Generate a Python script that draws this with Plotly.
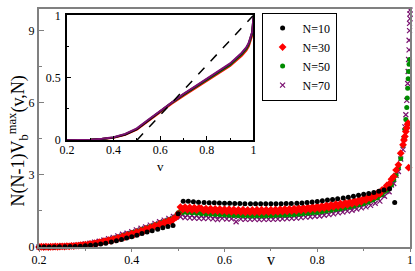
import plotly.graph_objects as go

# ---------------- data ----------------
V10 = [0.2, 0.211, 0.222, 0.233, 0.244, 0.256, 0.267, 0.278, 0.289, 0.3,
       0.311, 0.322, 0.333, 0.344, 0.356, 0.367, 0.378, 0.389, 0.4, 0.411,
       0.422, 0.433, 0.444, 0.456, 0.467, 0.478, 0.489, 0.5, 0.511, 0.522,
       0.533, 0.544, 0.556, 0.567, 0.578, 0.589, 0.6, 0.611, 0.622, 0.633,
       0.644, 0.656, 0.667, 0.678, 0.689, 0.7, 0.711, 0.722, 0.733, 0.744,
       0.756, 0.767, 0.778, 0.789, 0.8, 0.811, 0.822, 0.833, 0.844, 0.856,
       0.867, 0.878, 0.889, 0.9, 0.911, 0.922, 0.933, 0.944, 0.956, 0.967]
Y10 = [0.0, 0.0, 0.0, 0.0, 0.01, 0.01, 0.02, 0.02, 0.03, 0.05,
       0.07, 0.09, 0.12, 0.16, 0.21, 0.26, 0.31, 0.37, 0.43, 0.49,
       0.56, 0.62, 0.68, 0.74, 0.8, 0.85, 0.89, 1.38, 1.9, 1.9,
       1.88, 1.86, 1.85, 1.84, 1.84, 1.83, 1.82, 1.82, 1.81, 1.81,
       1.8, 1.8, 1.8, 1.8, 1.8, 1.8, 1.8, 1.8, 1.81, 1.81,
       1.82, 1.83, 1.85, 1.87, 1.89, 1.92, 1.95, 1.98, 2.01, 2.04,
       2.07, 2.11, 2.15, 2.19, 2.23, 2.27, 2.32, 2.37, 2.42, 1.85]

V_DENSE = [0.200, 0.205, 0.210, 0.215, 0.220, 0.225, 0.230, 0.235, 0.240, 0.245,
           0.250, 0.255, 0.260, 0.265, 0.270, 0.275, 0.280, 0.285, 0.290, 0.295,
           0.300, 0.305, 0.310, 0.315, 0.320, 0.325, 0.330, 0.335, 0.340, 0.345,
           0.350, 0.355, 0.360, 0.365, 0.370, 0.375, 0.380, 0.385, 0.390, 0.395,
           0.400, 0.405, 0.410, 0.415, 0.420, 0.425, 0.430, 0.435, 0.440, 0.445,
           0.450, 0.455, 0.460, 0.465, 0.470, 0.475, 0.480, 0.485, 0.490, 0.495,
           0.500, 0.505, 0.510, 0.515, 0.520, 0.525, 0.530, 0.535, 0.540, 0.545,
           0.550, 0.555, 0.560, 0.565, 0.570, 0.575, 0.580, 0.585, 0.590, 0.595,
           0.600, 0.605, 0.610, 0.615, 0.620, 0.625, 0.630, 0.635, 0.640, 0.645,
           0.650, 0.655, 0.660, 0.665, 0.670, 0.675, 0.680, 0.685, 0.690, 0.695,
           0.700, 0.705, 0.710, 0.715, 0.720, 0.725, 0.730, 0.735, 0.740, 0.745,
           0.750, 0.755, 0.760, 0.765, 0.770, 0.775, 0.780, 0.785, 0.790, 0.795,
           0.800, 0.805, 0.810, 0.815, 0.820, 0.825, 0.830, 0.835, 0.840, 0.845,
           0.850, 0.855, 0.860, 0.865, 0.870, 0.875, 0.880, 0.885, 0.890, 0.895,
           0.900, 0.905, 0.910, 0.915, 0.920, 0.925, 0.930, 0.935, 0.940, 0.945,
           0.950, 0.955, 0.960, 0.965, 0.970, 0.975, 0.980, 0.985]

Y30 = [0.00, 0.01, 0.00, 0.01, 0.00, 0.01, 0.01, 0.02, 0.01, 0.02,
       0.03, 0.02, 0.04, 0.03, 0.05, 0.04, 0.06, 0.06, 0.08, 0.08,
       0.10, 0.09, 0.13, 0.12, 0.16, 0.15, 0.20, 0.19, 0.24, 0.23,
       0.28, 0.26, 0.33, 0.31, 0.38, 0.36, 0.44, 0.41, 0.50, 0.47,
       0.56, 0.52, 0.62, 0.58, 0.68, 0.64, 0.75, 0.71, 0.82, 0.79,
       0.89, 0.85, 0.96, 0.92, 1.03, 0.98, 1.10, 1.06, 1.17, 1.22,
       1.38, 1.66, 1.56, 1.66, 1.55, 1.65, 1.54, 1.64, 1.53, 1.63,
       1.61, 1.51, 1.60, 1.50, 1.60, 1.49, 1.59, 1.49, 1.58, 1.48,
       1.57, 1.47, 1.57, 1.46, 1.56, 1.46, 1.55, 1.45, 1.55, 1.44,
       1.54, 1.44, 1.54, 1.44, 1.55, 1.44, 1.55, 1.45, 1.55, 1.45,
       1.55, 1.45, 1.56, 1.46, 1.57, 1.47, 1.58, 1.48, 1.59, 1.49,
       1.60, 1.50, 1.62, 1.52, 1.63, 1.54, 1.65, 1.56, 1.67, 1.58,
       1.69, 1.59, 1.71, 1.62, 1.74, 1.64, 1.76, 1.67, 1.79, 1.70,
       1.81, 1.72, 1.84, 1.75, 1.88, 1.79, 1.92, 1.83, 1.97, 1.88,
       2.02, 1.95, 2.08, 2.02, 2.15, 2.11, 2.25, 2.22, 2.38, 2.40,
       2.56, 2.62, 2.82, 2.93, 3.20, 3.42, 3.90, 4.25]

Y50 = [0.00, 0.00, 0.01, 0.00, 0.01, 0.01, 0.01, 0.02, 0.02, 0.02,
       0.03, 0.03, 0.04, 0.04, 0.05, 0.05, 0.06, 0.07, 0.08, 0.09,
       0.11, 0.10, 0.14, 0.13, 0.17, 0.17, 0.21, 0.21, 0.25, 0.26,
       0.30, 0.31, 0.35, 0.36, 0.41, 0.42, 0.47, 0.48, 0.53, 0.54,
       0.59, 0.60, 0.65, 0.66, 0.72, 0.73, 0.78, 0.80, 0.85, 0.87,
       0.92, 0.94, 0.99, 1.01, 1.06, 1.08, 1.13, 1.15, 1.21, 1.27,
       1.42, 1.49, 1.44, 1.47, 1.43, 1.46, 1.42, 1.45, 1.40, 1.43,
       1.38, 1.42, 1.37, 1.41, 1.36, 1.40, 1.35, 1.39, 1.34, 1.38,
       1.33, 1.37, 1.32, 1.36, 1.31, 1.35, 1.30, 1.35, 1.30, 1.34,
       1.30, 1.34, 1.29, 1.34, 1.30, 1.34, 1.29, 1.34, 1.30, 1.34,
       1.30, 1.35, 1.31, 1.35, 1.32, 1.36, 1.32, 1.37, 1.33, 1.38,
       1.34, 1.39, 1.36, 1.41, 1.38, 1.43, 1.40, 1.45, 1.42, 1.47,
       1.44, 1.50, 1.47, 1.53, 1.50, 1.56, 1.53, 1.59, 1.56, 1.62,
       1.58, 1.64, 1.62, 1.68, 1.66, 1.72, 1.71, 1.77, 1.76, 1.82,
       1.80, 1.87, 1.87, 1.95, 1.95, 2.04, 2.05, 2.15, 2.18, 2.31,
       2.36, 2.50, 2.58, 2.80, 2.98, 3.30, 3.68, 4.22]

Y70 = [0.00, 0.01, 0.00, 0.02, 0.01, 0.00, 0.02, 0.01, 0.03, 0.02,
       0.04, 0.02, 0.05, 0.04, 0.06, 0.05, 0.08, 0.06, 0.10, 0.09,
       0.13, 0.10, 0.16, 0.14, 0.20, 0.17, 0.24, 0.21, 0.29, 0.26,
       0.35, 0.31, 0.40, 0.36, 0.46, 0.41, 0.53, 0.47, 0.58, 0.55,
       0.64, 0.58, 0.71, 0.66, 0.78, 0.72, 0.84, 0.78, 0.91, 0.86,
       0.98, 0.91, 1.05, 0.99, 1.12, 1.06, 1.19, 1.12, 1.27, 1.24,
       1.35, 1.26, 1.36, 1.22, 1.33, 1.21, 1.32, 1.20, 1.31, 1.19,
       1.30, 1.18, 1.32, 1.20, 1.29, 1.17, 1.30, 1.14, 1.28, 1.19,
       1.28, 1.16, 1.29, 1.17, 1.27, 1.05, 1.28, 1.16, 1.26, 1.15,
       1.27, 1.15, 1.27, 1.16, 1.26, 1.14, 1.27, 1.15, 1.26, 1.15,
       1.27, 1.15, 1.28, 1.16, 1.28, 1.17, 1.29, 1.18, 1.30, 1.19,
       1.31, 1.20, 1.33, 1.22, 1.35, 1.24, 1.37, 1.26, 1.39, 1.28,
       1.41, 1.29, 1.43, 1.32, 1.46, 1.35, 1.49, 1.38, 1.53, 1.42,
       1.56, 1.45, 1.59, 1.49, 1.63, 1.53, 1.68, 1.58, 1.74, 1.63,
       1.78, 1.67, 1.85, 1.73, 1.93, 1.82, 2.03, 1.91, 2.16, 2.11,
       2.32, 2.30, 2.58, 2.64, 2.98, 3.14, 3.66, 4.05]

V30_TAIL = [0.987, 0.989, 0.991, 0.993, 0.995, 0.996, 0.997]
Y30_TAIL = [4.45, 4.6, 4.8, 4.95, 5.1, 5.15, 3.3]
V50_TAIL = [0.987, 0.989, 0.991, 0.993, 0.994, 0.995, 0.996, 0.997, 0.998, 0.999]
Y50_TAIL = [4.5, 4.9, 5.3, 5.8, 6.2, 6.6, 7.0, 7.3, 7.6, 7.8]
V70_TAIL = [0.987, 0.989, 0.991, 0.993, 0.995, 0.996, 0.997, 0.998, 0.998,
            0.999, 0.999, 1.0, 1.0, 1.0]
Y70_TAIL = [4.5, 5.0, 5.5, 6.1, 6.8, 7.3, 7.8, 8.2, 8.6, 9.0, 9.3, 9.5, 9.7, 9.85]

# inset (normalised cumulative curves)
V_INSET = [0.2, 0.25, 0.3, 0.35, 0.4, 0.45, 0.5, 0.55, 0.6, 0.65, 0.7,
           0.75, 0.8, 0.85, 0.9, 0.95, 0.97, 0.98, 0.99, 0.995, 1.0]
I10 = [0, 0, 0.003, 0.009, 0.02, 0.044, 0.088, 0.16, 0.232, 0.302, 0.367,
       0.427, 0.486, 0.546, 0.61, 0.695, 0.74, 0.775, 0.825, 0.865, 0.985]
I30 = [0, 0, 0.003, 0.009, 0.019, 0.043, 0.085, 0.153, 0.224, 0.292, 0.355,
       0.414, 0.472, 0.531, 0.594, 0.676, 0.718, 0.752, 0.8, 0.84, 0.97]
I50 = [0, 0.001, 0.003, 0.01, 0.022, 0.047, 0.09, 0.16, 0.23, 0.299, 0.362,
       0.422, 0.48, 0.54, 0.603, 0.687, 0.73, 0.765, 0.815, 0.855, 0.98]
I70 = [0, 0.001, 0.004, 0.011, 0.024, 0.05, 0.095, 0.165, 0.235, 0.305, 0.37,
       0.43, 0.49, 0.55, 0.615, 0.7, 0.745, 0.78, 0.83, 0.87, 0.99]
DASH_V = [0.5, 1.0]
DASH_Y = [0.0, 1.0]

MAIN_XTICKS = [0.2, 0.4, 0.6, 0.8, 1.0]
MAIN_XLABELS = ["0.2", "0.4", "0.6", "0.8", "1"]
MAIN_YTICKS = [0, 3, 6, 9]
MAIN_YLABELS = ["0", "3", "6", "9"]
INSET_XTICKS = [0.2, 0.4, 0.6, 0.8, 1.0]
INSET_XLABELS = ["0.2", "0.4", "0.6", "0.8", "1"]
INSET_YTICKS = [0, 0.5, 1]
INSET_YLABELS = ["0", "0.5", "1"]

# ---------------- styling ----------------
FONT = "Liberation Serif, Times New Roman, serif"
BLACK = "#000000"
RED = "#ff0000"
GREEN = "#008b00"
PURPLE = "#7a1070"
GRAY = "#808080"

fig = go.Figure()

# main plot (bottom layer first)
fig.add_trace(go.Scatter(x=V_DENSE + V70_TAIL, y=Y70 + Y70_TAIL, mode="markers",
                         name="N=70", cliponaxis=False,
                         marker=dict(symbol="x-thin", size=5, color=PURPLE,
                                     line=dict(width=1.2, color=PURPLE))))
fig.add_trace(go.Scatter(x=V_DENSE + V50_TAIL, y=Y50 + Y50_TAIL, mode="markers",
                         name="N=50", cliponaxis=False,
                         marker=dict(symbol="circle", size=5, color=GREEN)))
fig.add_trace(go.Scatter(x=V_DENSE + V30_TAIL, y=Y30 + Y30_TAIL, mode="markers",
                         name="N=30", cliponaxis=False,
                         marker=dict(symbol="diamond", size=6, color=RED)))
fig.add_trace(go.Scatter(x=V10, y=Y10, mode="markers", name="N=10",
                         cliponaxis=False,
                         marker=dict(symbol="circle", size=5, color=BLACK)))

# inset
for ys, col in [(I30, RED), (I50, GREEN), (I10, BLACK), (I70, PURPLE)]:
    fig.add_trace(go.Scatter(x=V_INSET, y=ys, mode="lines", showlegend=False,
                             line=dict(color=col, width=2),
                             xaxis="x2", yaxis="y2"))
fig.add_trace(go.Scatter(x=DASH_V, y=DASH_Y, mode="lines", showlegend=False,
                         line=dict(color=BLACK, width=1.5, dash="dash"),
                         xaxis="x2", yaxis="y2"))

fig.update_layout(
    width=415, height=271,
    margin=dict(l=39, r=4, t=2, b=24),
    paper_bgcolor="white", plot_bgcolor="white",
    font=dict(family=FONT, color="black", size=12),
    showlegend=True,
    legend=dict(x=0.6, y=0.985, xanchor="left", yanchor="top",
                bgcolor="white", bordercolor="black", borderwidth=1,
                font=dict(family=FONT, size=12), traceorder="reversed",
                itemwidth=30, tracegroupgap=0),
    xaxis=dict(domain=[0, 1], range=[0.2, 1.0], showgrid=False, zeroline=False,
               showline=True, mirror=True, linecolor=GRAY, linewidth=2,
               tickvals=MAIN_XTICKS, ticktext=MAIN_XLABELS,
               ticks="outside", ticklen=3, tickcolor=GRAY, tickwidth=1,
               minor=dict(dtick=0.1, tick0=0.2, ticks="outside", ticklen=2,
                          tickcolor=GRAY),
               tickfont=dict(family=FONT, size=12), ticklabelstandoff=-2),
    yaxis=dict(domain=[0, 1], range=[0, 9.9], showgrid=False, zeroline=False,
               showline=True, mirror=True, linecolor=GRAY, linewidth=2,
               tickvals=MAIN_YTICKS, ticktext=MAIN_YLABELS,
               ticks="inside", ticklen=5, tickcolor=GRAY, tickwidth=1,
               minor=dict(dtick=1.5, tick0=0, ticks="inside", ticklen=3,
                          tickcolor=GRAY),
               tickfont=dict(family=FONT, size=12)),
    xaxis2=dict(domain=[0.0753, 0.578], anchor="y2", range=[0.2, 1.0],
                showgrid=False, zeroline=False, showline=True, mirror=True,
                linecolor="black", linewidth=1.5,
                tickvals=INSET_XTICKS, ticktext=INSET_XLABELS,
                ticks="inside", ticklen=4, tickcolor="black",
                minor=dict(dtick=0.1, tick0=0.2, ticks="inside", ticklen=2,
                           tickcolor="black"),
                tickfont=dict(family=FONT, size=12), ticklabelstandoff=-2),
    yaxis2=dict(domain=[0.449, 0.9735], anchor="x2", range=[0, 1],
                showgrid=False, zeroline=False, showline=True, mirror=True,
                linecolor="black", linewidth=1.5,
                tickvals=INSET_YTICKS, ticktext=INSET_YLABELS,
                ticks="inside", ticklen=4, tickcolor="black",
                minor=dict(dtick=0.25, tick0=0, ticks="inside", ticklen=2,
                           tickcolor="black"),
                tickfont=dict(family=FONT, size=12), ticklabelstandoff=2),
    annotations=[
        dict(text="N(N-1)V<sub>b</sub><sup>max</sup>(v,N)", xref="paper",
             yref="paper", x=-0.058, y=0.445, xanchor="center",
             yanchor="middle", textangle=-90, showarrow=False,
             font=dict(family=FONT, size=18)),
        dict(text="v", xref="x", yref="paper", x=0.7, y=-0.098,
             xanchor="center", yanchor="bottom", showarrow=False,
             font=dict(family=FONT, size=16)),
        dict(text="v", xref="x2", yref="paper", x=0.6, y=0.378,
             xanchor="center", yanchor="top", showarrow=False,
             font=dict(family=FONT, size=13)),
    ],
)

fig.write_html("out.html",
               config={"displayModeBar": False},
               post_script="document.body.style.margin='0px';"
                           "document.body.style.overflow='hidden';")
